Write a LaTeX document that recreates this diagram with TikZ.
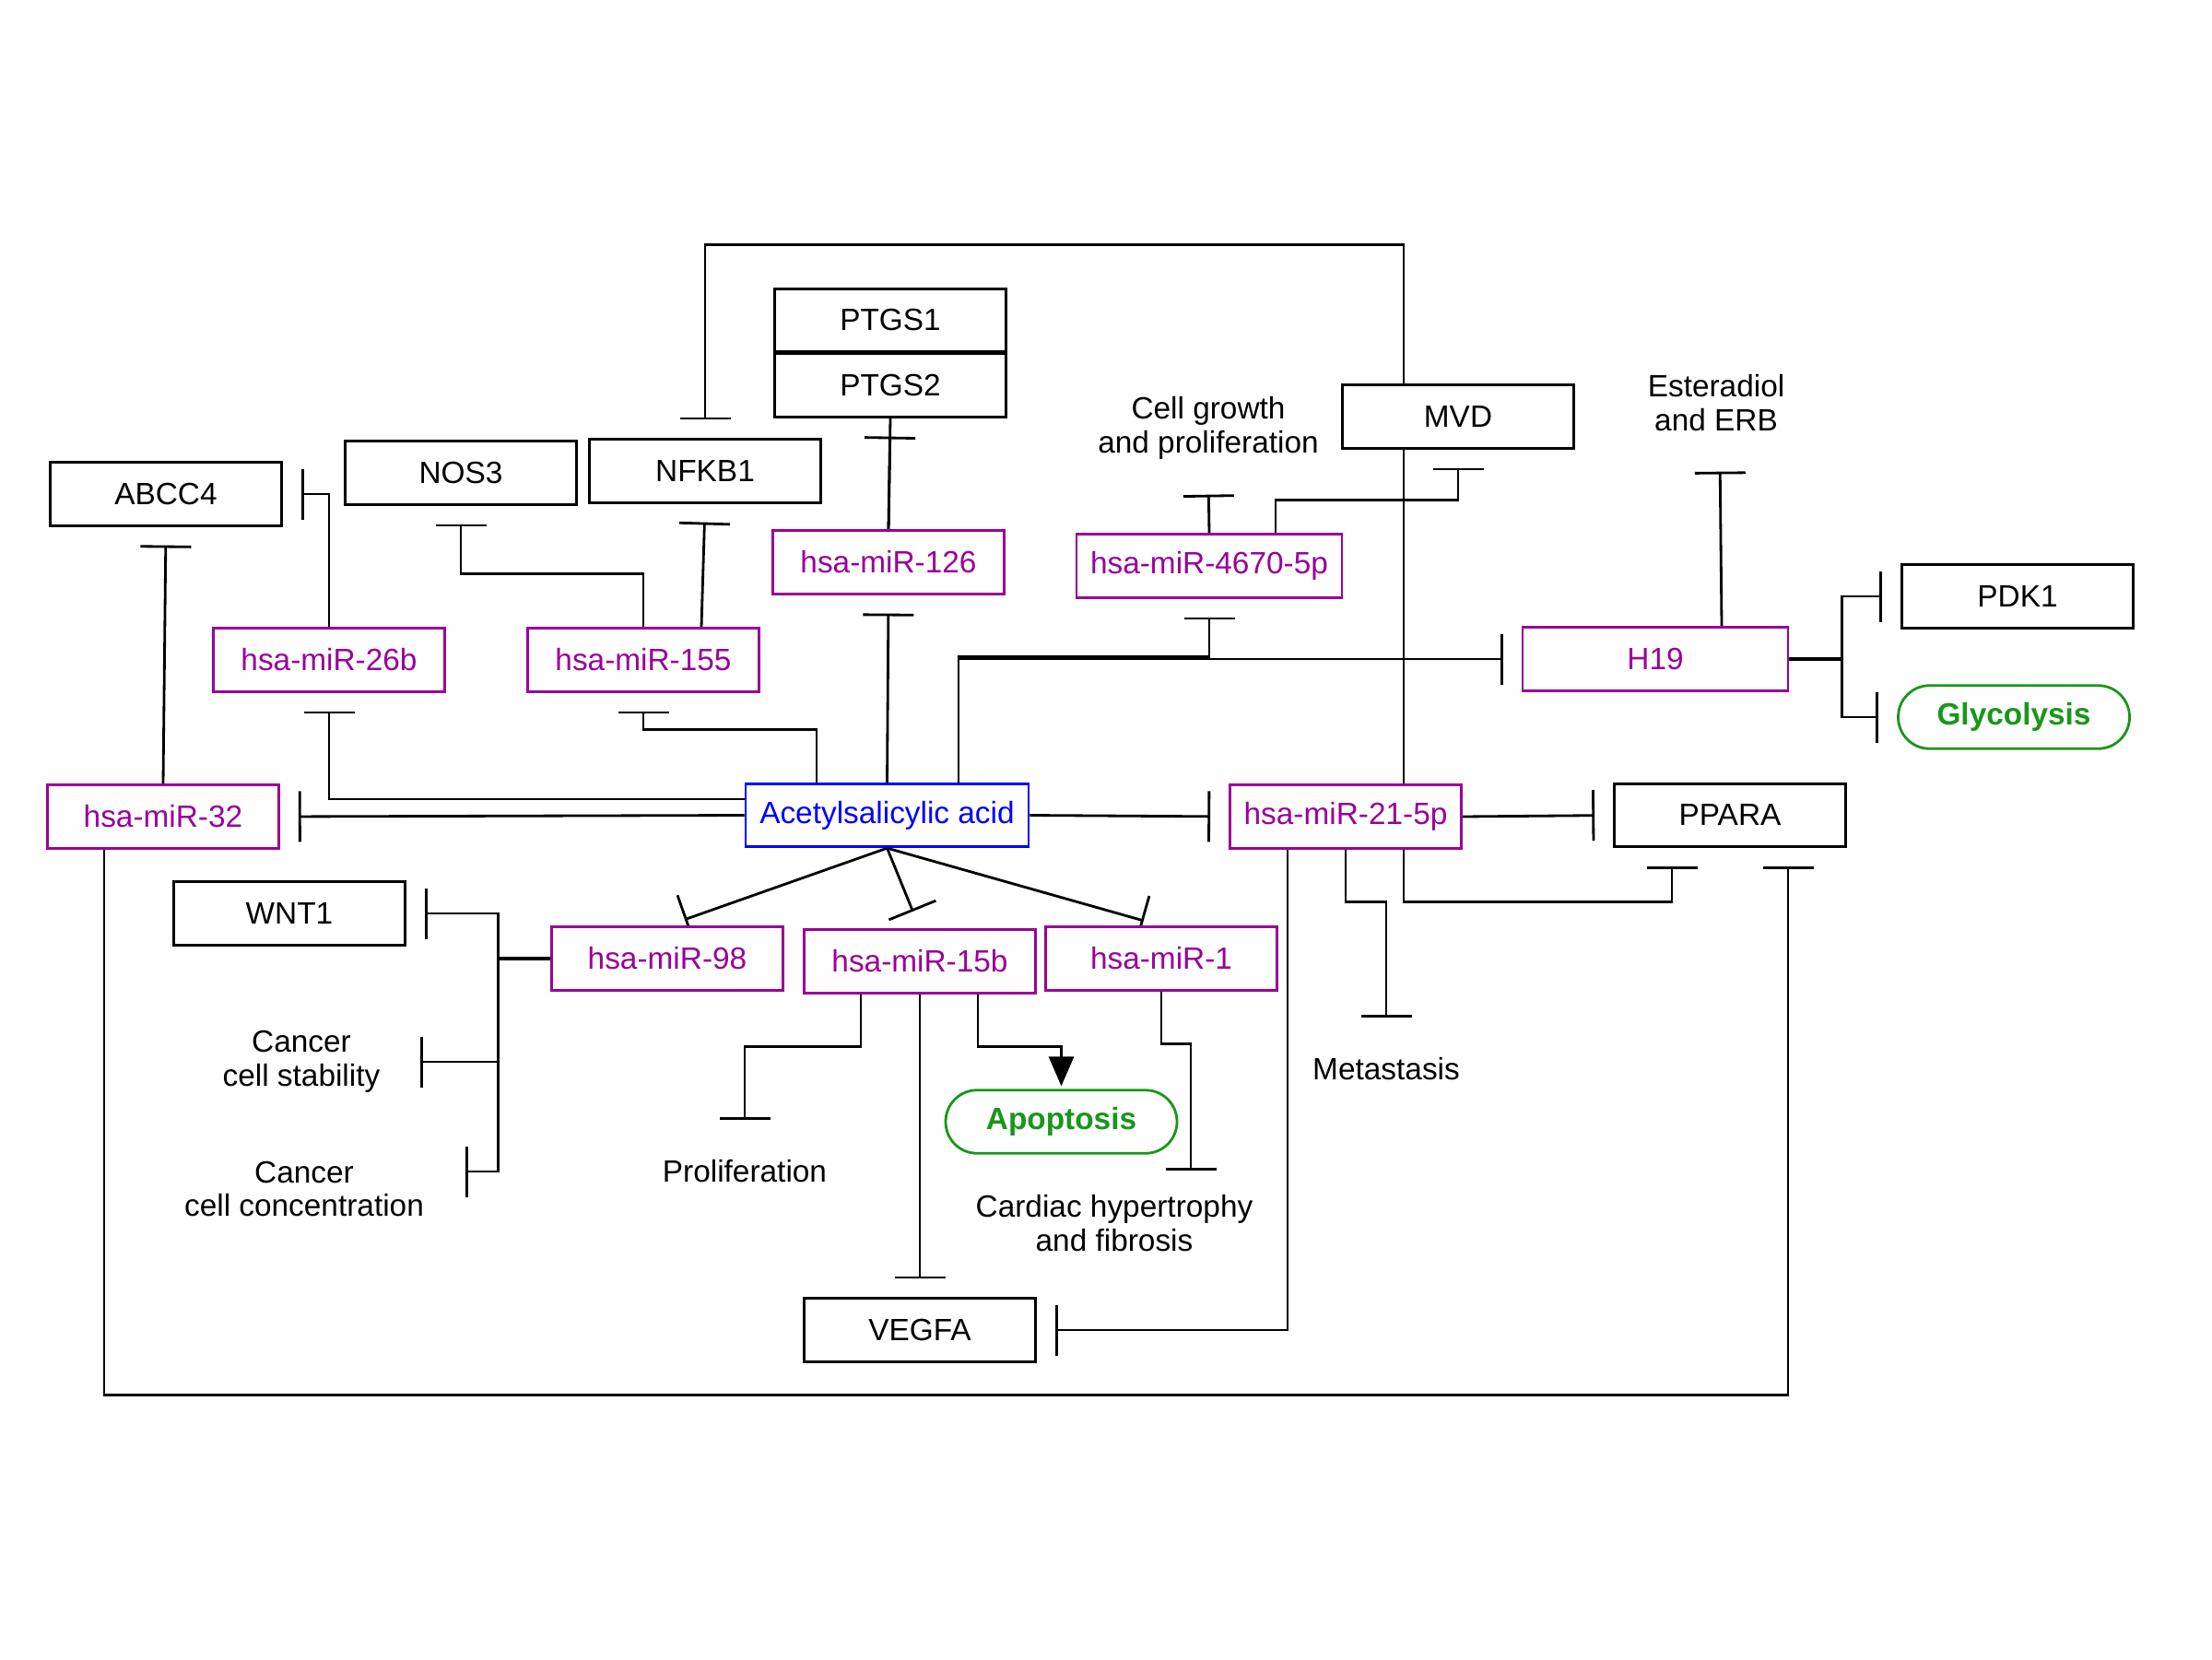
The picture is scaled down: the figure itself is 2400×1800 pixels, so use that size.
\documentclass[tikz,border=0pt]{standalone}
\usepackage{fontspec}
\setmainfont{Liberation Sans}
\usetikzlibrary{arrows.meta}
\definecolor{mirpurple}{RGB}{153,0,153}
\definecolor{drugblue}{RGB}{0,0,255}
\definecolor{procgreen}{RGB}{26,150,26}
\pgfdeclarelayer{background}
\pgfsetlayers{background,main}

\begin{document}
\begin{tikzpicture}[x=0.1mm,y=-0.1mm,
  font=\fontsize{9.5}{10.5}\selectfont,
  box/.style={draw,line width=0.8pt,fill=white,minimum width=25.1mm,minimum height=6.85mm,inner sep=0pt},
  mirna/.style={box,draw=mirpurple,text=mirpurple},
  drug/.style={box,draw=drugblue,text=drugblue,minimum width=30.7mm},
  process/.style={box,draw=procgreen,text=procgreen,font=\fontsize{9.5}{10.5}\selectfont\bfseries,rounded corners=3.4mm},
  note/.style={inner sep=0pt,align=center},
  link/.style={line width=0.8pt},
  inh/.style={link,-{Bar[width=5.5mm]},shorten >=2mm},
  act/.style={link,-{Triangle[length=3.2mm,width=2.7mm]}},
]
\useasboundingbox (0,0) rectangle (2400,1800);

% genes
\node[box] (ABCC4) at (180,536) {ABCC4};
\node[box] (NOS3) at (500,513) {NOS3};
\node[box] (NFKB1) at (765,511) {NFKB1};
\node[box] (PTGS1) at (966,347.5) {PTGS1};
\node[box] (PTGS2) at (966,418) {PTGS2};
\node[box] (MVD) at (1582,452) {MVD};
\node[box] (PDK1) at (2189,647) {PDK1};
\node[box] (PPARA) at (1877,884.5) {PPARA};
\node[box] (WNT1) at (314,991) {WNT1};
\node[box] (VEGFA) at (998,1443) {VEGFA};

% non-coding RNAs
\node[mirna] (miR126) at (964,610) {hsa-miR-126};
\node[mirna,minimum width=28.8mm] (miR4670) at (1312,614) {hsa-miR-4670-5p};
\node[mirna] (miR26b) at (357,716) {hsa-miR-26b};
\node[mirna] (miR155) at (698,716) {hsa-miR-155};
\node[mirna,minimum width=28.8mm] (H19) at (1796,715) {H19};
\node[mirna] (miR32) at (177,886) {hsa-miR-32};
\node[mirna] (miR21) at (1460,886) {hsa-miR-21-5p};
\node[mirna] (miR98) at (724,1040) {hsa-miR-98};
\node[mirna] (miR15b) at (998,1043) {hsa-miR-15b};
\node[mirna] (miR1) at (1260,1040) {hsa-miR-1};

% drug
\node[drug] (Acetyl) at (962.5,884.5) {Acetylsalicylic acid};

% processes
\node[process] (Glyco) at (2185,778) {Glycolysis};
\node[process] (Apop) at (1151.5,1217) {Apoptosis};

% phenotype labels
\node[note,minimum height=10.4mm] (growth) at (1311,464) {Cell growth\\and proliferation};
\node[note,minimum height=10.8mm] (estra) at (1862,437) {Esteradiol\\and ERB};
\node[note,minimum width=21.6mm] (stab) at (327,1152) {Cancer\\cell stability};
\node[note,minimum width=30.8mm] (conc) at (330,1290) {Cancer\\cell concentration};
\node[note,minimum height=11mm] (prolif) at (808,1271) {Proliferation};
\node[note,minimum height=11.2mm] (cardiac) at (1209,1327) {Cardiac hypertrophy\\and fibrosis};
\node[note,minimum height=11.1mm] (meta) at (1504,1160) {Metastasis};

\begin{pgfonlayer}{background}
% acetylsalicylic acid
\draw[inh] (Acetyl.west) -- (miR32.east);
\draw[inh] ([yshift=1.75mm]Acetyl.west) -| (miR26b.south);
\draw[inh] ([xshift=-7.65mm]Acetyl.north) -- ++(0,-57) -| (miR155.south);
\draw[inh] (Acetyl.north) -- (miR126.south);
\draw[inh] ([xshift=7.75mm]Acetyl.north) -- ++(0,-136.5) -| (miR4670.south);
\draw[inh] ([xshift=7.75mm]Acetyl.north) |- (H19.west);
\draw[inh] (Acetyl.east) -- (miR21.west);
\draw[inh] (Acetyl.south) -- (miR98.north);
\draw[inh] (Acetyl.south) -- (miR15b.north);
\draw[inh] (Acetyl.south) -- (miR1.north);

% upper targets
\draw[inh] (miR32.north) -- (ABCC4.south);
\draw[inh] (miR26b.north) |- (ABCC4.east);
\draw[inh] (miR155.north) -- ++(0,-58) -| (NOS3.south);
\draw[inh] ([xshift=6.3mm]miR155.north) -- (NFKB1.south);
\draw[link] (miR126.north) -- (PTGS2.south);
\draw[inh] (miR126.north) -- (PTGS2.south);
\draw[inh] (miR4670.north) -- (growth.south);
\draw[inh] ([xshift=7.2mm]miR4670.north) -- ++(0,-36) -| (MVD.south);
\draw[inh] ([xshift=6.3mm]miR21.north) -- ++(0,-585) -| (NFKB1.north);

% H19
\draw[inh] ([xshift=7.2mm]H19.north) -- ([xshift=0.4mm]estra.south);
\draw[inh] ([yshift=0.08mm]H19.east) -- ++(57,0) |- (PDK1.west);
\draw[inh] ([yshift=-0.08mm]H19.east) -- ++(57,0) |- (Glyco.west);

% hsa-miR-21-5p
\draw[inh] (miR21.east) -- (PPARA.west);
\draw[inh,shorten >=0pt] (miR21.south) -- ++(0,57) -| (meta.north);
\draw[inh] ([xshift=6.3mm]miR21.south) -- ++(0,57) -| ([xshift=-6.3mm]PPARA.south);
\draw[inh] ([xshift=-6.3mm]miR21.south) |- (VEGFA.east);

% hsa-miR-32 loop
\draw[inh] ([xshift=-6.4mm]miR32.south) -- ++(0,592) -| ([xshift=6.3mm]PPARA.south);

% hsa-miR-98
\draw[inh] ([yshift=0.08mm]miR98.west) -- ++(-57,0) |- (WNT1.east);
\draw[inh] ([yshift=-0.08mm]miR98.west) -- ++(-57,0) |- (stab.east);
\draw[inh] (miR98.west) -- ++(-57,0) |- ([yshift=1.9mm]conc.east);

% hsa-miR-15b and hsa-miR-1
\draw[inh,shorten >=0pt] ([xshift=-6.4mm]miR15b.south) -- ++(0,57) -| (prolif.north);
\draw[inh] (miR15b.south) -- (VEGFA.north);
\draw[act,shorten >=0.3mm] ([xshift=6.3mm]miR15b.south) -- ++(0,56.5) -| (Apop.north);
\draw[inh,shorten >=0pt] (miR1.south) -- ++(0,56.5) -| ([xshift=8.3mm]cardiac.north);
\end{pgfonlayer}
\end{tikzpicture}
\end{document}
